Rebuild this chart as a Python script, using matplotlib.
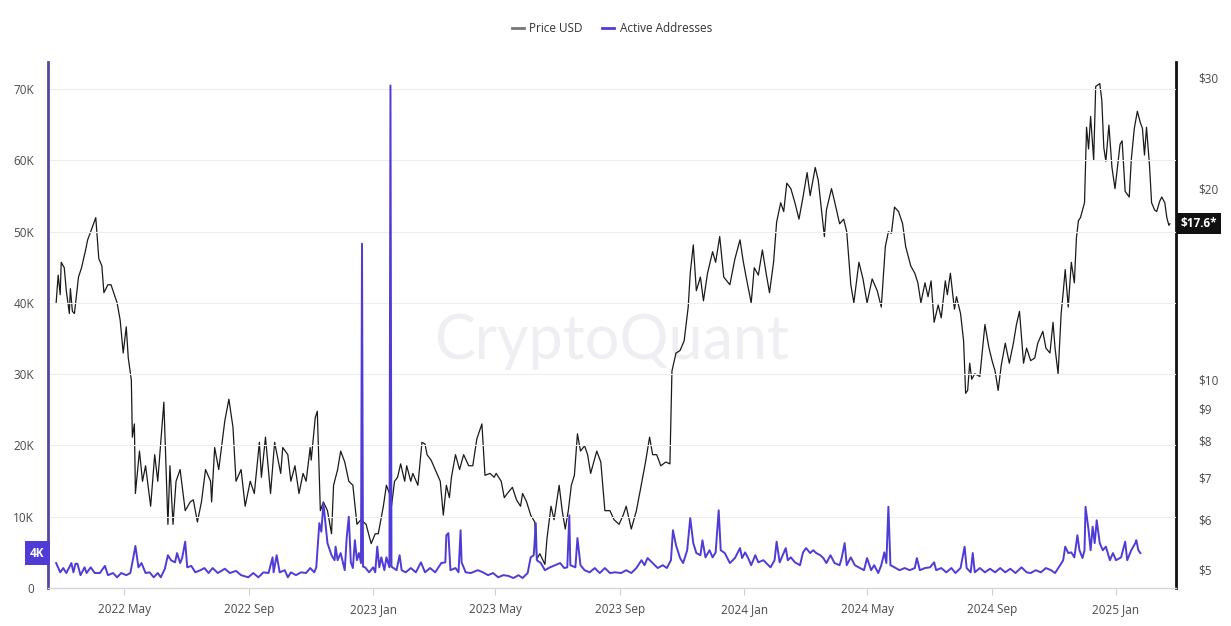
import matplotlib
matplotlib.use("Agg")
import matplotlib.pyplot as plt
import matplotlib.dates as mdates
import matplotlib.transforms as mtransforms
from matplotlib.lines import Line2D
import pandas as pd

plt.rcParams["font.family"] = ["Open Sans", "DejaVu Sans"]

START = pd.Timestamp("2022-02-23")

# price (USD); days counted from START
price_days = [
    0, 2, 4, 5, 8, 10, 13, 14, 16, 18,
    22, 25, 29, 31, 34, 39, 42, 45, 47, 51,
    54, 58, 60, 63, 66, 69, 71, 74, 75, 77,
    78, 82, 85, 88, 93, 97, 100, 106, 110, 112,
    115, 118, 122, 127, 132, 135, 139, 143, 147, 152,
    153, 156, 160, 166, 170, 174, 177, 182, 186, 191,
    195, 200, 202, 206, 211, 215, 221, 223, 228, 231,
    235, 239, 243, 246, 250, 251, 255, 257, 260, 263,
    267, 271, 273, 277, 280, 284, 288, 292, 296, 300,
    305, 310, 314, 317, 322, 325, 328, 330, 333, 336,
    339, 343, 345, 349, 351, 356, 360, 363, 365, 369,
    373, 378, 381, 384, 387, 389, 393, 397, 401, 406,
    410, 414, 419, 422, 427, 431, 433, 438, 441, 444,
    449, 453, 457, 459, 463, 467, 471, 473, 476, 481,
    483, 487, 490, 495, 498, 501, 504, 507, 510, 513,
    516, 520, 523, 526, 532, 536, 540, 545, 549, 554,
    558, 561, 566, 571, 575, 580, 584, 587, 591, 595,
    600, 604, 606, 610, 614, 618, 622, 624, 627, 630,
    634, 637, 641, 646, 649, 653, 657, 663, 668, 673,
    676, 679, 684, 687, 691, 695, 699, 702, 706, 709,
    713, 716, 719, 723, 727, 731, 735, 739, 742, 747,
    750, 753, 756, 758, 763, 766, 771, 775, 778, 782,
    785, 790, 794, 798, 803, 808, 812, 816, 819, 822,
    825, 829, 833, 836, 841, 845, 848, 851, 855, 858,
    861, 864, 868, 871, 875, 877, 880, 884, 886, 890,
    893, 895, 897, 899, 901, 904, 909, 914, 918, 921,
    924, 927, 930, 934, 938, 942, 945, 948, 952, 955,
    959, 963, 966, 971, 974, 978, 981, 983, 986, 989,
    991, 993, 996, 999, 1002, 1004, 1006, 1008, 1012, 1014,
    1016, 1018, 1021, 1023, 1027, 1029, 1031, 1033, 1036, 1039,
    1042, 1047, 1049, 1052, 1056, 1058, 1061, 1064, 1067, 1069,
    1071, 1073, 1076, 1078, 1081, 1083, 1086, 1088, 1091, 1093,
    1095, 1096,
]
price_usd = [
    13.2, 14.6, 13.6, 15.3, 15.0, 13.8, 12.7, 13.9, 12.8, 12.7,
    14.5, 15.0, 16.0, 16.6, 17.1, 18.0, 15.5, 15.1, 13.7, 14.1,
    14.1, 13.5, 13.2, 12.4, 11.0, 12.1, 10.8, 9.97, 8.1, 8.5,
    6.6, 7.7, 6.9, 7.3, 6.3, 7.6, 6.9, 9.2, 5.9, 7.3,
    5.9, 6.9, 7.2, 6.2, 6.4, 6.45, 5.95, 6.4, 7.2, 6.9,
    6.4, 7.8, 7.2, 8.6, 9.3, 8.4, 6.9, 7.2, 6.3, 6.9,
    6.6, 7.95, 7.0, 8.1, 6.6, 7.95, 7.1, 7.8, 7.6, 6.9,
    7.3, 6.6, 7.1, 6.9, 7.8, 7.45, 8.7, 8.9, 6.2, 6.4,
    6.2, 5.7, 6.8, 7.2, 7.7, 7.4, 6.9, 6.8, 5.9, 6.0,
    5.9, 5.5, 5.7, 5.7, 6.3, 6.8, 6.6, 6.3, 6.9, 7.0,
    7.35, 6.9, 7.3, 6.9, 7.1, 6.8, 7.95, 7.9, 7.6, 7.45,
    7.2, 6.9, 6.1, 6.8, 6.5, 7.0, 7.6, 7.2, 7.6, 7.3,
    7.3, 8.05, 8.5, 7.05, 7.1, 7.0, 7.1, 6.9, 6.5, 6.6,
    6.75, 6.45, 6.3, 6.6, 6.4, 6.1, 5.95, 5.2, 5.3, 5.1,
    5.6, 6.3, 6.0, 6.8, 6.2, 5.8, 6.2, 6.8, 7.05, 8.2,
    7.7, 7.85, 7.6, 7.1, 7.7, 7.4, 6.2, 6.2, 6.0, 5.9,
    6.1, 6.3, 5.8, 6.2, 6.7, 7.4, 8.1, 7.6, 7.6, 7.3,
    7.4, 7.35, 10.3, 11.0, 11.1, 11.5, 13.0, 14.7, 16.3, 13.8,
    14.5, 13.3, 14.7, 15.9, 15.3, 16.8, 14.5, 14.1, 15.5, 16.6,
    15.4, 14.5, 13.2, 15.0, 14.6, 16.0, 14.6, 13.7, 15.3, 17.7,
    19.0, 18.4, 20.4, 20.0, 19.0, 17.9, 19.4, 21.2, 19.5, 21.6,
    20.6, 18.6, 16.8, 18.5, 20.0, 19.1, 17.6, 17.9, 17.1, 14.1,
    13.2, 15.3, 14.4, 13.2, 14.4, 13.8, 13.0, 16.2, 17.1, 17.0,
    18.7, 18.4, 17.6, 16.2, 15.1, 14.7, 14.2, 13.2, 14.2, 13.5,
    14.3, 12.3, 13.1, 12.5, 14.3, 13.6, 14.7, 12.9, 13.5, 12.7,
    11.5, 9.5, 9.6, 10.6, 10.0, 10.2, 10.1, 12.2, 11.2, 10.7,
    10.3, 9.6, 10.5, 11.4, 10.6, 11.4, 12.2, 12.8, 10.6, 11.2,
    10.7, 10.8, 11.4, 11.9, 11.2, 11.0, 12.3, 11.2, 10.2, 12.7,
    13.7, 14.9, 13.0, 15.3, 14.2, 16.7, 17.8, 18.0, 19.0, 25.0,
    23.1, 26.0, 22.2, 29.0, 29.3, 27.6, 23.2, 22.1, 25.2, 21.6,
    20.0, 23.5, 23.8, 19.8, 19.4, 22.2, 24.9, 26.5, 25.4, 24.9,
    22.6, 25.0, 21.7, 19.0, 18.5, 18.4, 19.1, 19.4, 19.0, 18.0,
    17.5, 17.6,
]

# active addresses (thousands)
addr_days = [
    0, 4, 7, 10, 15, 17, 19, 21, 24, 28,
    30, 34, 38, 43, 48, 51, 56, 60, 64, 69,
    73, 76, 78, 81, 84, 88, 92, 96, 100, 103,
    107, 110, 113, 117, 119, 122, 124, 127, 129, 133,
    137, 142, 146, 150, 154, 159, 166, 171, 177, 182,
    189, 194, 199, 204, 209, 213, 214, 217, 220, 225,
    228, 231, 236, 241, 246, 250, 254, 256, 259, 261,
    263, 265, 267, 271, 274, 275, 277, 280, 284, 286,
    288, 290, 292, 294, 296, 298, 300, 301, 302, 304,
    308, 312, 314, 316, 318, 320, 323, 325, 328, 329,
    330, 332, 335, 338, 340, 344, 349, 354, 359, 363,
    368, 373, 379, 383, 384, 386, 388, 393, 396, 398,
    399, 403, 408, 415, 420, 425, 430, 435, 440, 445,
    450, 455, 459, 464, 467, 470, 472, 473, 477, 481,
    486, 491, 496, 500, 503, 505, 506, 511, 513, 516,
    520, 525, 530, 535, 540, 545, 550, 556, 561, 566,
    571, 576, 579, 582, 587, 592, 597, 601, 605, 607,
    610, 614, 617, 621, 624, 627, 630, 634, 636, 639,
    643, 646, 649, 652, 654, 658, 663, 668, 673, 675,
    678, 681, 684, 688, 691, 696, 701, 703, 707, 709,
    712, 715, 718, 720, 723, 727, 732, 735, 738, 742,
    745, 748, 752, 755, 758, 762, 766, 771, 773, 776,
    778, 782, 786, 791, 795, 798, 802, 805, 809, 812,
    815, 817, 819, 821, 825, 830, 835, 840, 845, 847,
    850, 855, 860, 864, 866, 871, 876, 881, 885, 890,
    894, 896, 900, 902, 904, 909, 914, 919, 924, 929,
    934, 939, 944, 950, 955, 959, 964, 969, 974, 979,
    983, 988, 991, 993, 996, 999, 1002, 1005, 1007, 1010,
    1012, 1013, 1016, 1018, 1020, 1022, 1024, 1027, 1030, 1033,
    1037, 1040, 1043, 1048, 1052, 1054, 1058, 1062, 1063, 1065,
    1067,
]
addr_k = [
    3.5, 2.2, 2.8, 2.1, 3.5, 2.2, 3.4, 3.4, 1.8, 2.9,
    2.1, 2.9, 2.1, 2.1, 3.1, 1.8, 2.1, 1.5, 2.1, 1.8,
    2.1, 4.3, 5.9, 2.9, 3.5, 2.1, 2.2, 1.5, 2.1, 1.5,
    2.7, 4.6, 3.9, 3.6, 4.9, 3.5, 4.2, 6.5, 2.9, 3.1,
    2.2, 2.5, 2.8, 2.1, 2.8, 2.1, 2.7, 2.1, 2.4, 1.8,
    1.5, 2.1, 1.5, 2.2, 2.1, 4.3, 2.2, 4.6, 2.2, 2.5,
    1.5, 2.2, 1.8, 2.2, 2.1, 2.8, 2.2, 2.9, 9.1, 7.9,
    11.9, 9.1, 6.3, 4.6, 3.9, 5.8, 3.9, 4.9, 2.5, 7.2,
    10.0, 3.6, 2.8, 6.7, 3.9, 4.9, 3.5, 48.3, 3.0, 2.9,
    2.2, 2.9, 2.2, 5.8, 2.9, 4.3, 2.5, 4.3, 2.9, 70.5,
    3.0, 2.8, 2.5, 4.6, 2.5, 2.2, 2.8, 2.2, 3.6, 2.2,
    2.8, 2.2, 3.5, 3.6, 7.4, 7.7, 2.5, 2.8, 2.2, 8.1,
    3.6, 2.2, 2.1, 2.5, 2.2, 1.8, 2.1, 1.5, 1.8, 1.7,
    1.4, 1.8, 1.4, 2.1, 4.3, 4.6, 9.1, 3.9, 3.5, 2.5,
    2.9, 3.2, 3.5, 2.8, 2.9, 10.2, 3.2, 2.9, 7.0, 3.2,
    2.5, 2.2, 2.8, 2.1, 2.8, 2.1, 2.2, 2.1, 2.5, 2.1,
    2.8, 3.9, 3.2, 4.2, 3.5, 2.8, 3.2, 2.8, 3.9, 8.1,
    6.0, 4.2, 3.5, 5.3, 9.8, 6.3, 4.9, 4.6, 6.7, 4.3,
    5.3, 4.3, 5.0, 10.9, 5.3, 4.9, 3.5, 4.2, 5.6, 4.2,
    5.0, 4.2, 3.2, 4.6, 3.6, 3.9, 3.2, 2.9, 3.9, 6.5,
    3.6, 4.6, 5.6, 3.9, 4.3, 3.6, 3.2, 5.0, 5.6, 4.9,
    5.3, 4.9, 4.6, 4.2, 3.5, 4.6, 3.5, 3.2, 4.2, 6.3,
    3.2, 4.3, 3.2, 2.8, 2.5, 4.2, 2.5, 3.2, 2.1, 3.2,
    5.0, 3.5, 11.4, 3.2, 2.9, 2.5, 2.8, 2.5, 2.8, 4.2,
    2.5, 2.8, 2.9, 3.6, 2.5, 2.8, 2.2, 2.8, 2.1, 2.8,
    5.8, 2.8, 2.2, 4.9, 2.2, 2.8, 2.2, 2.7, 2.2, 2.8,
    2.2, 2.7, 2.1, 2.9, 2.2, 2.1, 2.5, 2.2, 2.8, 2.5,
    2.1, 3.2, 3.9, 5.8, 4.9, 5.0, 4.3, 7.4, 5.3, 4.2,
    5.3, 11.4, 8.1, 5.3, 8.6, 6.3, 9.5, 6.3, 5.3, 5.8,
    3.9, 4.9, 3.9, 4.3, 6.5, 3.9, 5.3, 6.3, 6.7, 5.3,
    4.9,
]

addr_ticks = [0, 10000, 20000, 30000, 40000, 50000, 60000, 70000]
addr_tick_labels = ["0", "10K", "20K", "30K", "40K", "50K", "60K", "70K"]
price_ticks = [5, 6, 7, 8, 9, 10, 20, 30]

PURPLE = "#4f3cd6"
SPINE_PURPLE = "#54489f"
TEXT = "#4a4a4a"


def to_dates(days):
    return START + pd.to_timedelta(days, unit="D")


def main() -> None:
    if len(price_days) != len(price_usd) or len(addr_days) != len(addr_k):
        raise ValueError(f"{len(price_days)} {len(price_usd)} {len(addr_days)} {len(addr_k)}")

    fig = plt.figure(figsize=(12.31, 6.26), dpi=100, facecolor="white")
    ax = fig.add_axes([0.039, 0.0607, 0.9163, 0.8403])
    ax2 = ax.twinx()
    ax.set_zorder(2)
    ax2.set_zorder(1)
    ax.patch.set_visible(False)
    ax2.patch.set_visible(False)

    fig.text(0.497, 0.455, "CryptoQuant", fontsize=44, color="#efeff3",
             ha="center", va="center", family=["Lato", "DejaVu Sans"], zorder=0)

    # price on the right, log scale
    ax2.plot(to_dates(price_days), price_usd, color="#1a1a1a", lw=0.9)
    ax2.set_yscale("log")
    ax2.set_ylim(4.68, 31.7)
    ax2.set_yticks(price_ticks)
    ax2.set_yticklabels([f"${t}" for t in price_ticks])
    ax2.yaxis.set_minor_locator(plt.NullLocator())
    ax2.tick_params(axis="y", length=0, pad=16, labelsize=8.5, labelcolor=TEXT)
    for side in ("left", "top", "bottom"):
        ax2.spines[side].set_visible(False)
    ax2.spines["right"].set_color("#111111")
    ax2.spines["right"].set_linewidth(2)

    # active addresses on the left
    addr = [v * 1000 for v in addr_k]
    ax.plot(to_dates(addr_days), addr, color=PURPLE, lw=1.4)
    ax.set_ylim(0, 73800)
    ax.set_yticks(addr_ticks)
    ax.set_yticklabels(addr_tick_labels)
    ax.tick_params(axis="y", length=0, pad=10, labelsize=8.5, labelcolor=TEXT)
    ax.grid(axis="y", color="#eeeeee", lw=0.8)
    ax.set_axisbelow(True)
    for side in ("right", "top"):
        ax.spines[side].set_visible(False)
    ax.spines["left"].set_color(SPINE_PURPLE)
    ax.spines["left"].set_linewidth(2)
    ax.spines["bottom"].set_color("#d6d6d6")
    ax.spines["bottom"].set_linewidth(1)

    ax.set_xlim(START - pd.Timedelta(days=8), START + pd.Timedelta(days=1102))
    ax.xaxis.set_major_locator(mdates.MonthLocator(bymonth=[1, 5, 9]))
    ax.xaxis.set_major_formatter(mdates.DateFormatter("%Y %b"))
    ax.tick_params(axis="x", length=5, color="#d0d0d0", pad=6, labelsize=8.5, labelcolor=TEXT)

    # last-value badges
    left_tr = mtransforms.blended_transform_factory(ax.transAxes, ax.transData)
    ax.text(-0.003, addr[-1], "4K", transform=left_tr, ha="right", va="center",
            color="white", fontsize=8.5, fontweight="bold",
            bbox=dict(boxstyle="square,pad=0.45", fc=PURPLE, ec="none"))
    right_tr = mtransforms.blended_transform_factory(ax2.transAxes, ax2.transData)
    ax2.text(1.004, price_usd[-1], "$17.6*", transform=right_tr, ha="left", va="center",
             color="white", fontsize=8.5, fontweight="bold",
             bbox=dict(boxstyle="square,pad=0.35", fc="#111111", ec="none"))

    handles = [
        Line2D([], [], color="#777777", lw=2),
        Line2D([], [], color=PURPLE, lw=2),
    ]
    fig.legend(handles, ["Price USD", "Active Addresses"], loc="center",
               bbox_to_anchor=(0.497, 0.955), ncol=2, frameon=False,
               handlelength=1.0, handletextpad=0.5, columnspacing=1.6,
               fontsize=8.5, labelcolor="#333333")

    fig.savefig("out.png", dpi=100, facecolor="white")


if __name__ == "__main__":
    main()
